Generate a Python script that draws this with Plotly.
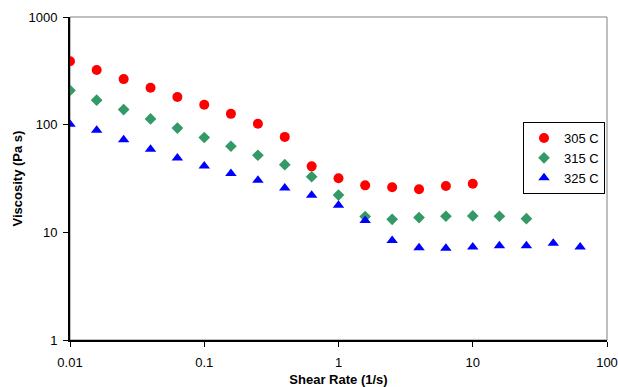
import plotly.graph_objects as go

shear_rate = [0.01, 0.0158, 0.0251, 0.0398, 0.0631, 0.1, 0.158, 0.251, 0.398, 0.631,
              1.0, 1.58, 2.51, 3.98, 6.31, 10.0, 15.8, 25.1, 39.8, 63.1]

visc_305 = [388, 322, 265, 220, 181, 153, 126, 102, 77, 41, 31.8, 27.3, 26.2, 25.1, 26.9, 28.3]
visc_315 = [208, 169, 138, 113, 93, 76, 63, 52, 42.5, 32.9, 22.2, 14.0, 13.2, 13.7, 14.1, 14.2, 14.1, 13.4]
visc_325 = [101, 88.7, 72.5, 59, 49, 41.3, 35.1, 30.4, 25.8, 22.1, 17.8, 12.9, 8.4, 7.2, 7.1, 7.3, 7.5, 7.5, 7.9, 7.3]

series_names = ["305 C", "315 C", "325 C"]
x_ticks = [0.01, 0.1, 1, 10, 100]
x_tick_labels = ["0.01", "0.1", "1", "10", "100"]
y_ticks = [1, 10, 100, 1000]
y_tick_labels = ["1", "10", "100", "1000"]

fig = go.Figure()
fig.add_trace(go.Scatter(x=shear_rate[:len(visc_305)], y=visc_305, mode="markers", name=series_names[0],
                         marker=dict(symbol="circle", size=10, color="#FF0000")))
fig.add_trace(go.Scatter(x=shear_rate[:len(visc_315)], y=visc_315, mode="markers", name=series_names[1],
                         marker=dict(symbol="diamond", size=9, color="#339966")))
fig.add_trace(go.Scatter(x=shear_rate[:len(visc_325)], y=visc_325, mode="markers", name=series_names[2],
                         marker=dict(symbol="triangle-up", size=10, color="#0000FF")))

font_family = "Liberation Sans, Arial, sans-serif"

fig.update_layout(
    width=618, height=387,
    margin=dict(l=70, r=11, t=17, b=47, autoexpand=False),
    paper_bgcolor="white", plot_bgcolor="white",
    font=dict(family=font_family, size=13, color="black"),
    showlegend=True,
    legend=dict(x=0.8436, y=0.675, xanchor="left", yanchor="top",
                bordercolor="black", borderwidth=1, bgcolor="white",
                font=dict(size=13), itemsizing="trace",
                tracegroupgap=0, itemwidth=30),
    shapes=[dict(type="rect", xref="paper", yref="paper", x0=0, y0=0, x1=1, y1=1,
                 line=dict(color="#808080", width=1), layer="below")],
)

fig.update_xaxes(type="log", range=[-2, 2], tickvals=x_ticks, ticktext=x_tick_labels,
                 showgrid=False, zeroline=False, showline=True, linecolor="black", linewidth=2,
                 ticks="outside", ticklen=5, tickcolor="black", tickwidth=1, automargin=False,
                 ticklabelstandoff=4,
                 title=dict(text="<b>Shear Rate (1/s)</b>", font=dict(size=13), standoff=7))
fig.update_yaxes(type="log", range=[0, 3], tickvals=y_ticks, ticktext=y_tick_labels,
                 showgrid=False, zeroline=False, showline=True, linecolor="black", linewidth=2,
                 ticks="outside", ticklen=5, tickcolor="black", tickwidth=1, automargin=False,
                 ticklabelstandoff=3,
                 title=dict(text="<b>Viscosity (Pa s)</b>", font=dict(size=13), standoff=3))

fig.write_html("out.html", config={"displayModeBar": False})

with open("out.html", "r", encoding="utf-8") as f:
    html = f.read()
html = html.replace("<body>", '<body style="margin:0;overflow:hidden">', 1)
with open("out.html", "w", encoding="utf-8") as f:
    f.write(html)
